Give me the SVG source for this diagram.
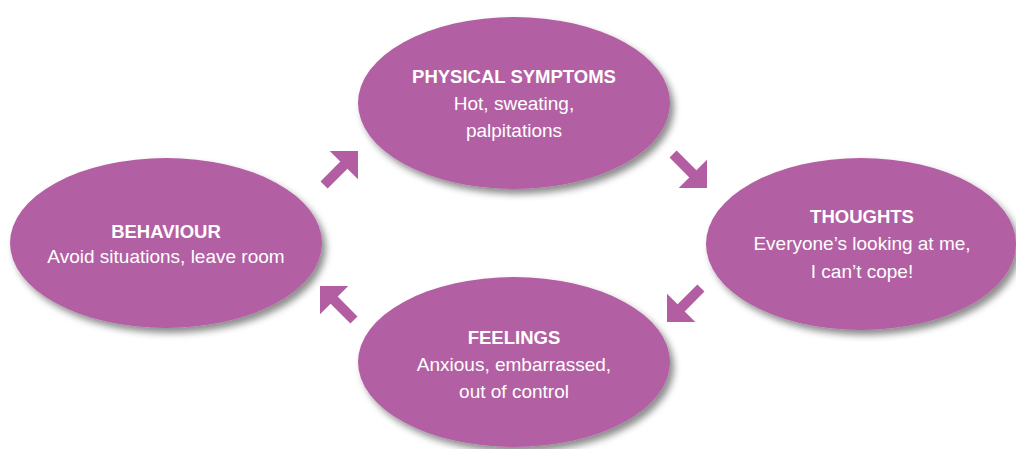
<svg xmlns="http://www.w3.org/2000/svg" width="1016" height="449" viewBox="0 0 1016 449">
  <defs>
    <filter id="shadow" x="-10%" y="-10%" width="125%" height="130%">
      <feDropShadow dx="4" dy="5" stdDeviation="3.5" flood-color="#000" flood-opacity="0.45"/>
    </filter>
    <polygon id="arrow" points="0,0 -20,-20 -20,-5 -48,-5 -48,5 -20,5 -20,20"/>
  </defs>
  <style>
    .node { fill: #b35ea3; filter: url(#shadow); }
    .arr { fill: #b35ea3; }
    text { fill: #ffffff; font-family: "Liberation Sans", Arial, sans-serif; text-anchor: middle; }
    .title { font-weight: bold; font-size: 18.5px; }
    .body { font-size: 19px; }
  </style>
  <rect width="1016" height="449" fill="#ffffff"/>

  <g id="connectors">
    <use href="#arrow" class="arr" transform="translate(358,151) rotate(-45)"/>
    <use href="#arrow" class="arr" transform="translate(707,188) rotate(45)"/>
    <use href="#arrow" class="arr" transform="translate(667,322) rotate(135)"/>
    <use href="#arrow" class="arr" transform="translate(320,286) rotate(-135)"/>
  </g>

  <g id="physical-symptoms">
    <ellipse class="node" cx="514" cy="103" rx="156" ry="86"/>
    <text class="title" x="514" y="83">PHYSICAL SYMPTOMS</text>
    <text class="body" x="514" y="110">Hot, sweating,</text>
    <text class="body" x="514" y="137">palpitations</text>
  </g>

  <g id="thoughts">
    <ellipse class="node" cx="861" cy="244" rx="155" ry="86"/>
    <text class="title" x="862" y="223">THOUGHTS</text>
    <text class="body" x="862" y="250">Everyone’s looking at me,</text>
    <text class="body" x="862" y="278">I can’t cope!</text>
  </g>

  <g id="feelings">
    <ellipse class="node" cx="514" cy="362" rx="156" ry="85"/>
    <text class="title" x="514" y="344">FEELINGS</text>
    <text class="body" x="514" y="371">Anxious, embarrassed,</text>
    <text class="body" x="514" y="398">out of control</text>
  </g>

  <g id="behaviour">
    <ellipse class="node" cx="166" cy="243" rx="156" ry="85"/>
    <text class="title" x="166" y="238">BEHAVIOUR</text>
    <text class="body" x="166" y="263">Avoid situations, leave room</text>
  </g>
</svg>
